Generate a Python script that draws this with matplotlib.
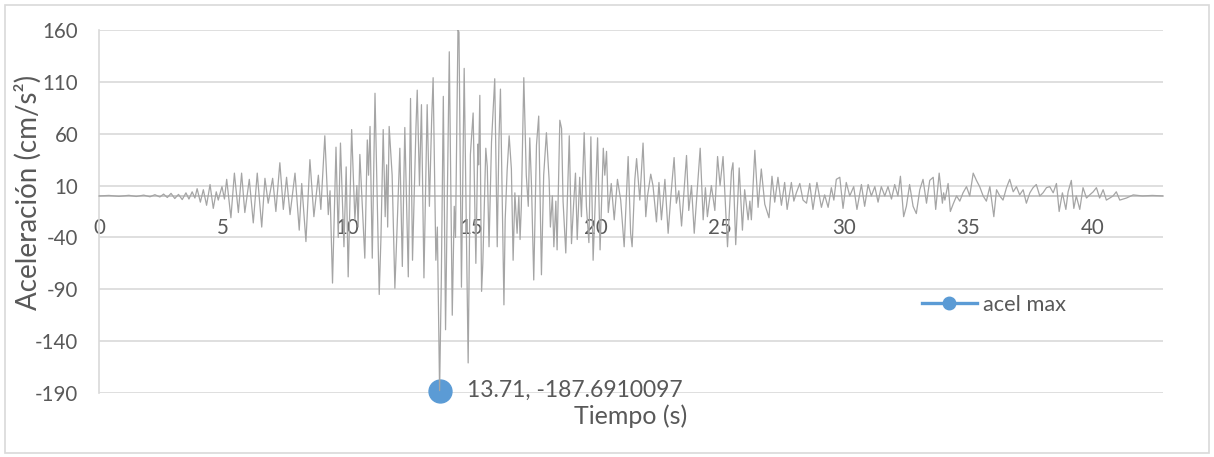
import matplotlib
matplotlib.use("Agg")
import matplotlib.pyplot as plt
from matplotlib.lines import Line2D
from matplotlib.patches import Rectangle

plt.rcParams['font.family'] = ['Lato', 'DejaVu Sans']
plt.rcParams['axes.unicode_minus'] = False

# Accelerogram: turning points of the record (time in s, acceleration in cm/s²)
t_max = 13.71
a_max = -187.6910097

time_s = [
    0.00, 0.40, 0.80, 1.20, 1.50, 1.80, 2.05, 2.25, 2.45, 2.60, 2.75, 2.90, 3.05, 3.20,
    3.35, 3.50, 3.62, 3.75, 3.86, 3.95, 4.08, 4.20, 4.33, 4.47, 4.60, 4.72, 4.80, 4.95,
    5.05, 5.14, 5.31, 5.45, 5.61, 5.74, 5.87, 6.05, 6.21, 6.37, 6.55, 6.68, 6.81, 6.99,
    7.12, 7.28, 7.42, 7.55, 7.69, 7.89, 8.06, 8.16, 8.33, 8.49, 8.65, 8.83, 8.93, 9.09,
    9.23, 9.30, 9.40, 9.54, 9.63, 9.72, 9.86, 9.95, 10.03, 10.17, 10.30, 10.38, 10.43, 10.50,
    10.70, 10.80, 10.85, 10.91, 11.00, 11.11, 11.28, 11.35, 11.44, 11.52, 11.58, 11.62, 11.68, 11.80,
    11.91, 12.00, 12.11, 12.21, 12.31, 12.45, 12.54, 12.62, 12.76, 12.81, 12.90, 12.98, 13.08, 13.21,
    13.30, 13.39, 13.45, 13.56, 13.62, t_max, 13.78, 13.86, 13.95, 14.10, 14.22, 14.30, 14.35, 14.45,
    14.49, 14.59, 14.70, 14.86, 14.95, 15.06, 15.17, 15.25, 15.28, 15.33, 15.40, 15.45, 15.57, 15.63,
    15.70, 15.80, 15.93, 16.03, 16.10, 16.16, 16.30, 16.35, 16.43, 16.51, 16.60, 16.67, 16.74, 16.83,
    16.90, 16.95, 17.00, 17.10, 17.20, 17.28, 17.34, 17.41, 17.50, 17.61, 17.70, 17.81, 17.90, 18.01,
    18.12, 18.17, 18.25, 18.31, 18.39, 18.44, 18.55, 18.62, 18.68, 18.79, 18.93, 19.02, 19.10, 19.18,
    19.25, 19.35, 19.42, 19.53, 19.62, 19.72, 19.80, 19.89, 20.07, 20.17, 20.30, 20.36, 20.43, 20.50,
    20.62, 20.74, 20.87, 21.00, 21.14, 21.30, 21.40, 21.46, 21.57, 21.64, 21.77, 21.90, 22.01, 22.08,
    22.21, 22.30, 22.44, 22.54, 22.64, 22.78, 22.91, 23.02, 23.15, 23.24, 23.34, 23.45, 23.65, 23.74,
    23.85, 23.96, 24.20, 24.32, 24.41, 24.49, 24.65, 24.79, 24.90, 25.00, 25.12, 25.30, 25.46, 25.52,
    25.63, 25.77, 25.90, 25.99, 26.13, 26.20, 26.26, 26.40, 26.53, 26.66, 26.80, 26.97, 27.09, 27.20,
    27.33, 27.47, 27.60, 27.70, 27.87, 27.97, 28.07, 28.21, 28.34, 28.48, 28.61, 28.74, 28.90, 29.08,
    29.21, 29.35, 29.48, 29.58, 29.68, 29.82, 29.95, 30.08, 30.22, 30.38, 30.51, 30.69, 30.82, 30.96,
    31.09, 31.23, 31.36, 31.49, 31.63, 31.76, 31.90, 32.03, 32.16, 32.26, 32.39, 32.50, 32.63, 32.77,
    32.90, 33.04, 33.17, 33.31, 33.44, 33.58, 33.68, 33.82, 33.95, 34.00, 34.05, 34.18, 34.27, 34.38,
    34.52, 34.65, 34.78, 34.92, 35.05, 35.19, 35.32, 35.45, 35.59, 35.72, 35.86, 36.02, 36.13, 36.26,
    36.39, 36.53, 36.66, 36.80, 36.93, 37.06, 37.20, 37.33, 37.47, 37.60, 37.73, 37.87, 38.00, 38.14,
    38.27, 38.41, 38.54, 38.65, 38.78, 38.92, 39.01, 39.14, 39.24, 39.34, 39.48, 39.61, 39.75, 39.88,
    40.02, 40.15, 40.28, 40.42, 40.55, 40.69, 40.82, 40.95, 41.09, 41.36, 41.63, 42.00, 42.40, 42.83,
]

accel = [
    0.0, 0.5, -0.4, 0.6, -0.5, 0.8, -0.8, 1.2, -1.0, 1.8, -1.5, 2.5, -2.5, 1.5,
    -3.5, 3.0, -3.0, 4.0, -2.0, 7.0, -6.0, 6.0, -9.0, 11.0, -12.0, 4.0, -4.0, 9.0,
    -3.0, 16.0, -21.0, 22.0, -16.0, 22.0, -16.0, 16.0, -26.0, 22.0, -30.0, 17.0, -7.0, 17.0,
    -15.0, 32.0, -13.0, 18.0, -18.0, 22.0, -33.0, 12.0, -44.0, 35.0, -20.0, 20.0, -13.0, 58.0,
    -18.0, 5.0, -84.0, 47.0, -40.0, 51.0, -49.0, 28.0, -78.0, 64.0, -23.0, 10.0, -30.0, 40.0,
    -60.0, 54.0, 20.0, 67.0, -60.0, 99.0, -95.0, -40.0, 64.0, -20.0, 30.0, -30.0, 67.0, 20.0,
    -89.0, -30.0, 46.0, -68.0, 66.0, -78.0, 94.0, -62.0, 67.0, 102.0, 10.0, 88.0, -79.0, 88.0,
    -10.0, 73.0, 114.0, -62.0, -30.0, a_max, -80.0, 96.0, -129.0, 139.0, -115.0, -10.0, -40.0, 160.0,
    158.0, -88.0, 123.0, -161.0, 40.0, 80.0, -65.0, 50.0, 30.0, 97.0, -92.0, -65.0, 46.0, 28.0,
    -49.0, 52.0, 113.0, -49.0, 55.0, 103.0, -105.0, -23.0, 25.0, 58.0, 26.0, -62.0, 3.0, -36.0,
    0.0, -42.0, -10.0, 114.0, 20.0, -10.0, 56.0, 10.0, -81.0, 49.0, 77.0, -76.0, 20.0, 61.0,
    15.0, -30.0, 0.0, -49.0, -5.0, -52.0, 73.0, 65.0, -5.0, -55.0, 58.0, -46.0, -10.0, 22.0,
    -42.0, 18.0, -20.0, 61.0, -10.0, -45.0, 57.0, -62.0, 56.0, -52.0, 46.0, 20.0, 43.0, -16.0,
    12.0, -23.0, 16.0, -4.0, -49.0, 38.0, -36.0, -49.0, 16.0, 36.0, -4.0, 51.0, -20.0, 0.0,
    21.0, 10.0, -25.0, 13.0, -23.0, 16.0, -36.0, 0.0, 37.0, -7.0, 5.0, -29.0, 39.0, -14.0,
    10.0, -36.0, 46.0, -23.0, 8.0, -20.0, 10.0, -14.0, 38.0, 10.0, 38.0, -49.0, 24.0, 32.0,
    -47.0, 27.0, -33.0, 6.0, -23.0, -5.0, -23.0, 44.0, -11.0, 26.0, -8.0, -21.0, 19.0, -6.0,
    18.0, -9.0, 13.0, -13.0, 13.0, -5.0, 3.0, 12.0, -4.0, -7.0, 12.0, -13.0, 13.0, -11.0,
    1.0, -11.0, 8.0, -4.0, 16.0, 18.0, -12.0, 13.0, 0.0, 9.0, -13.0, 11.0, -10.0, 11.0,
    0.0, 9.0, -6.0, 9.0, 0.0, 9.0, -3.0, 11.0, 0.0, 19.0, -20.0, -10.0, 11.0, -10.0,
    -17.0, 6.0, 16.0, -7.0, 15.0, 18.0, -13.0, 22.0, -7.0, 3.0, -4.0, 12.0, -15.0, -8.0,
    0.0, -5.0, 3.0, 9.0, 0.0, 22.0, 15.0, 9.0, 0.0, -5.0, 9.0, -20.0, 6.0, 0.0,
    -4.0, 8.0, 16.0, 4.0, 9.0, 1.0, 6.0, -7.0, 3.0, 8.0, 11.0, 0.0, 3.0, 8.0,
    9.0, 3.0, 12.0, -15.0, 3.0, -13.0, 4.0, 15.0, -12.0, 0.0, -13.0, 8.0, -2.0, 1.0,
    4.0, 8.0, -2.0, 6.0, -4.0, -2.0, 0.0, 4.0, -4.0, -2.0, 1.0, 0.0, 0.5, 0.0,
]

y_ticks = [-190, -140, -90, -40, 10, 60, 110, 160]
x_ticks = [0, 5, 10, 15, 20, 25, 30, 35, 40]

TEXT = '#595959'
GRID = '#d9d9d9'
TRACE = '#a5a5a5'
BLUE = '#5b9bd5'

fig = plt.figure(figsize=(12.14, 4.57), dpi=100)
ax = fig.add_axes([99 / 1214, 1 - 393 / 457, (1163 - 99) / 1214, (393 - 30) / 457])

ax.set_xlim(0, 42.83)
ax.set_ylim(-190, 160)
ax.set_yticks(y_ticks)
ax.set_xticks(x_ticks)
ax.yaxis.grid(True, color=GRID, lw=1.2)
ax.set_axisbelow(True)

for side in ('top', 'right'):
    ax.spines[side].set_visible(False)
ax.spines['left'].set_color(GRID)
ax.spines['left'].set_linewidth(1.2)
ax.spines['bottom'].set_position(('data', 0))
ax.spines['bottom'].set_color('#bfbfbf')
ax.spines['bottom'].set_linewidth(1.2)

ax.tick_params(axis='y', length=0, pad=15, labelsize=14.8, labelcolor=TEXT)
ax.tick_params(axis='x', length=0, pad=16, labelsize=14.8, labelcolor=TEXT)

# Peak marker, the record and the data label
ax.plot([t_max], [a_max], 'o', ms=16.5, color=BLUE, zorder=3, clip_on=False)
ax.plot(time_s, accel, color=TRACE, lw=0.9, zorder=4)
ax.annotate(f"{t_max}, {a_max}", xy=(t_max, a_max), xytext=(20, 0),
            textcoords='offset points', va='center', ha='left',
            fontsize=16.5, color=TEXT, annotation_clip=False)

fig.text(28 / 1214, 1 - 192 / 457, 'Aceleración (cm/s²)', rotation=90,
         ha='center', va='center', fontsize=20, color=TEXT)
fig.text(631 / 1214, 1 - 416 / 457, 'Tiempo (s)', ha='center', va='center',
         fontsize=18, color=TEXT)

handle = Line2D([], [], color=BLUE, lw=2.4, marker='o', ms=9)
fig.legend([handle], ['acel max'], loc='center left',
           bbox_to_anchor=(922 / 1214, 1 - 305 / 457), frameon=False,
           fontsize=15.7, labelcolor=TEXT, handlelength=2.5, handletextpad=0.3,
           borderpad=0, borderaxespad=0)

fig.patches.append(Rectangle((5 / 1214, 4 / 457), 1204 / 1214, 448 / 457,
                             transform=fig.transFigure, fill=False,
                             edgecolor=GRID, lw=1.2))

fig.savefig('out.png', dpi=100)
